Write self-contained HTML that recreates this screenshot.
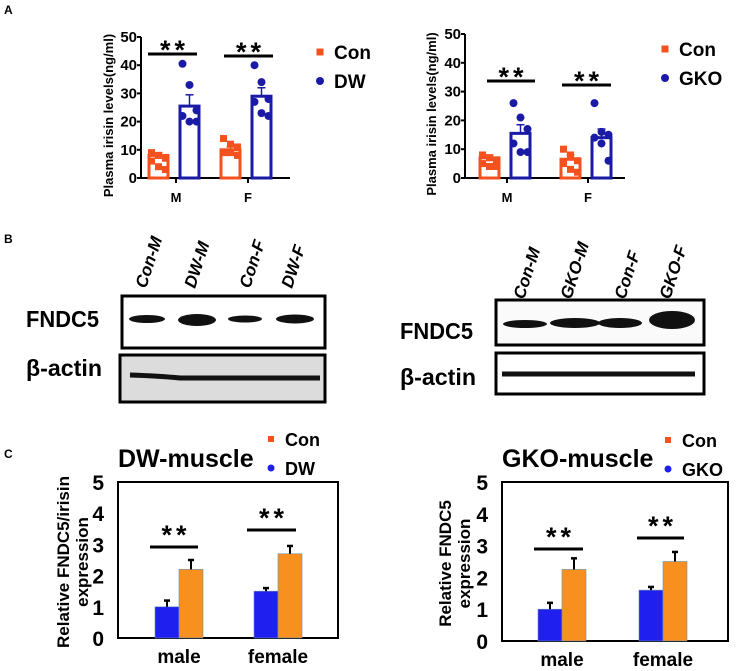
<!DOCTYPE html>
<html><head><meta charset="utf-8"><style>
body{margin:0;background:#fff;}
svg{display:block;font-family:"Liberation Sans",Arial,sans-serif;font-weight:bold;}
</style></head><body>
<svg id="fig" width="738" height="671" viewBox="0 0 738 671" xmlns="http://www.w3.org/2000/svg">
<text x="4" y="14" font-size="12">A</text>
<text x="4" y="243" font-size="12">B</text>
<text x="4" y="458" font-size="12">C</text>
<g id="blots">
  <g>
    <text transform="translate(146,289) rotate(-72)" font-size="17" font-style="italic">Con-M</text>
    <text transform="translate(195,289) rotate(-72)" font-size="17" font-style="italic">DW-M</text>
    <text transform="translate(250,289) rotate(-72)" font-size="17" font-style="italic">Con-F</text>
    <text transform="translate(292,289) rotate(-72)" font-size="17" font-style="italic">DW-F</text>
    <rect x="122" y="296" width="203" height="52" fill="#fff" stroke="#000" stroke-width="3"/>
    <ellipse cx="147" cy="319" rx="18" ry="4" fill="#111"/>
    <ellipse cx="197" cy="320" rx="19" ry="6" fill="#111"/>
    <ellipse cx="245" cy="319" rx="17" ry="3.5" fill="#111"/>
    <ellipse cx="295" cy="319" rx="19" ry="4.5" fill="#111"/>
    <rect x="120" y="355" width="205" height="47" fill="#dcdcdc" stroke="#000" stroke-width="3"/>
    <path d="M130 375 Q160 376 180 378 L320 378" stroke="#111" stroke-width="5" fill="none"/>
    <text x="26" y="327" font-size="23" textLength="73" lengthAdjust="spacingAndGlyphs">FNDC5</text>
    <text x="26" y="376" font-size="23" textLength="76" lengthAdjust="spacingAndGlyphs">β-actin</text>
  </g>
  <g>
    <text transform="translate(524,300) rotate(-72)" font-size="17" font-style="italic">Con-M</text>
    <text transform="translate(571,300) rotate(-72)" font-size="17" font-style="italic">GKO-M</text>
    <text transform="translate(625,300) rotate(-72)" font-size="17" font-style="italic">Con-F</text>
    <text transform="translate(670,300) rotate(-72)" font-size="17" font-style="italic">GKO-F</text>
    <rect x="496" y="300" width="208" height="45" fill="#fafafa" stroke="#000" stroke-width="3"/>
    <ellipse cx="525" cy="324" rx="22" ry="4" fill="#111"/>
    <ellipse cx="575" cy="323" rx="25" ry="5" fill="#111"/>
    <ellipse cx="620" cy="323" rx="22" ry="5" fill="#111"/>
    <ellipse cx="672" cy="320" rx="23" ry="9" fill="#111"/>
    <rect x="496" y="353" width="208" height="41" fill="#fff" stroke="#000" stroke-width="3"/>
    <line x1="502" y1="374" x2="695" y2="374" stroke="#111" stroke-width="5"/>
    <text x="400" y="339" font-size="23" textLength="73" lengthAdjust="spacingAndGlyphs">FNDC5</text>
    <text x="400" y="385" font-size="23" textLength="76" lengthAdjust="spacingAndGlyphs">β-actin</text>
  </g>
</g>
</svg>
<script>
// ---- Panel A data ----
const aGroups = ["M", "F"];
const aTicks = [0, 10, 20, 30, 40, 50];
const a1ConMeans = [8, 10];
const a1DwMeans = [25.5, 29];
const a1DwErr = [4, 3];
const a1ConErr = [1, 1];
const a1ConDotsM = [9, 8, 7, 6, 4, 3];
const a1DwDotsM = [40.5, 33, 24, 22, 20, 20];
const a1ConDotsF = [14, 12, 11, 9, 9, 8];
const a1DwDotsF = [40, 34, 28, 27, 23, 22];
const a2ConMeans = [7, 6.5];
const a2GkoMeans = [15.5, 14];
const a2GkoErr = [3, 3];
const a2ConErr = [1, 1.5];
const a2ConDotsM = [8, 7, 6, 5, 4, 4];
const a2GkoDotsM = [26, 21, 17, 12, 9, 9];
const a2ConDotsF = [10, 8, 6, 5, 3, 2];
const a2GkoDotsF = [26, 16, 15, 14, 12, 6];
// ---- Panel C data ----
const cGroups = ["male", "female"];
const cTicks = [0, 1, 2, 3, 4, 5];
const c1DwMeans = [1.0, 1.5];
const c1DwErr = [0.2, 0.1];
const c1ConMeans = [2.2, 2.7];
const c1ConErr = [0.3, 0.25];
const c2GkoMeans = [1.0, 1.6];
const c2GkoErr = [0.2, 0.1];
const c2ConMeans = [2.25, 2.5];
const c2ConErr = [0.35, 0.3];

const NS = "http://www.w3.org/2000/svg";
const svg = document.getElementById("fig");
function mk(tag, attrs, parent, text) {
  const e = document.createElementNS(NS, tag);
  for (const k in attrs) e.setAttribute(k, attrs[k]);
  if (text !== undefined) e.textContent = text;
  (parent || svg).appendChild(e);
  return e;
}

function panelA(o) {
  const g = mk("g", {});
  
  
  const y = v => o.y0 - (v / 50) * (o.y0 - o.y50);
  mk("line", {x1: o.ax, y1: y(50), x2: o.ax, y2: o.y0, stroke: "#000", "stroke-width": 2}, g);
  mk("line", {x1: o.ax, y1: o.y0, x2: o.axEnd, y2: o.y0, stroke: "#000", "stroke-width": 2}, g);
  aTicks.forEach(t => {
    mk("line", {x1: o.ax - 4, y1: y(t), x2: o.ax, y2: y(t), stroke: "#000", "stroke-width": 2}, g);
    const tl = mk("text", {x: o.ax - 4, y: y(t) + 5, "font-size": 15, "text-anchor": "end"}, g, t);
    
    
  });
  const yl = mk("text", {transform: `translate(${o.ylx},${(y(50)+o.y0)/2+8}) rotate(-90)`, "font-size": 13, "text-anchor": "middle"}, g, "Plasma irisin levels(ng/ml)");
  
  
  aGroups.forEach((grp, i) => {
    const cx = o.groupX[i];
    mk("line", {x1: cx, y1: o.y0, x2: cx, y2: o.y0 + 5, stroke: "#000", "stroke-width": 2}, g);
    const xl = mk("text", {x: cx, y: o.y0 + 24, "font-size": 13, "text-anchor": "middle"}, g, grp);
    
    
    const bw = 19;
    const series = [
      {m: o.conMeans[i], e: o.conErr[i], dots: o.conDots[i], c: "#f4511e", x: cx - 27, sq: true},
      {m: o.expMeans[i], e: o.expErr[i], dots: o.expDots[i], c: "#1a1aa6", x: cx + 4, sq: false}
    ];
    series.forEach((s, si) => {
      const b = mk("rect", {x: s.x, y: y(s.m), width: bw, height: o.y0 - y(s.m), fill: "#fff", stroke: s.c, "stroke-width": 3}, g);
      
      
      mk("line", {x1: s.x + bw/2, y1: y(s.m), x2: s.x + bw/2, y2: y(s.m + s.e), stroke: s.c, "stroke-width": 1.5}, g);
      mk("line", {x1: s.x + bw/2 - 4, y1: y(s.m + s.e), x2: s.x + bw/2 + 4, y2: y(s.m + s.e), stroke: s.c, "stroke-width": 1.5}, g);
      s.dots.forEach((v, k) => {
        const dx = s.x + bw/2 + ((k % 3) - 1) * 7;
        let d;
        if (s.sq) d = mk("rect", {x: dx - 3.5, y: y(v) - 3.5, width: 7, height: 7, fill: s.c}, g);
        else d = mk("circle", {cx: dx, cy: y(v), r: 4, fill: s.c}, g);
        
        
      });
    });
    const sl = o.sig[i];
    mk("line", {x1: sl[0], y1: sl[2], x2: sl[1], y2: sl[2], stroke: "#000", "stroke-width": 3}, g);
    const st = mk("text", {x: (sl[0]+sl[1])/2 + 2, y: sl[2] + 5, "font-size": 27, "text-anchor": "middle", "letter-spacing": "4"}, g, "**");
    
    
  });
  mk("rect", {x: o.leg[0] - 3.5, y: o.leg[1] - 3.5, width: 7, height: 7, fill: "#f4511e"}, g);
  const l1 = mk("text", {x: o.leg[0] + 14, y: o.leg[1] + 7, "font-size": 19}, g, "Con");
  
  
  mk("circle", {cx: o.leg[0], cy: o.leg[1] + 29, r: 4, fill: "#1a1aa6"}, g);
  const l2 = mk("text", {x: o.leg[0] + 14, y: o.leg[1] + 36, "font-size": 19}, g, o.expName);
  
  
}

panelA({name: "chart-a-dw", ax: 141, axEnd: 290, y0: 178, y50: 37, ylx: 113, groupX: [176, 248],
  conMeans: a1ConMeans, conErr: a1ConErr, expMeans: a1DwMeans, expErr: a1DwErr,
  conDots: [a1ConDotsM, a1ConDotsF], expDots: [a1DwDotsM, a1DwDotsF],
  sig: [[148, 197, 54], [224, 273, 56]], leg: [320, 52], expName: "DW"});
panelA({name: "chart-a-gko", ax: 465, axEnd: 625, y0: 178, y50: 34, ylx: 436, groupX: [507, 588],
  conMeans: a2ConMeans, conErr: a2ConErr, expMeans: a2GkoMeans, expErr: a2GkoErr,
  conDots: [a2ConDotsM, a2ConDotsF], expDots: [a2GkoDotsM, a2GkoDotsF],
  sig: [[487, 535, 81], [562, 611, 85]], leg: [665, 49], expName: "GKO"});

function panelC(o) {
  const g = mk("g", {});
  
  
  const y = v => o.y0 - (v / 5) * (o.y0 - o.y5);
  mk("rect", {x: o.x1, y: o.y5, width: o.x2 - o.x1, height: o.y0 - o.y5, fill: "none", stroke: "#000", "stroke-width": 2}, g);
  cTicks.forEach(t => {
    const tl = mk("text", {x: o.x1 - 14, y: y(t) + 8, "font-size": 21, "text-anchor": "end"}, g, t);
    
    
  });
  const cy = (o.y0 + o.y5) / 2 + 2;
  const yl = mk("text", {transform: `translate(${o.ylx},${cy}) rotate(-90)`, "font-size": 17, "text-anchor": "middle"}, g);
  
  
  mk("tspan", {x: 0, dy: 0}, yl, o.ylab[0]);
  mk("tspan", {x: 0, dy: 19}, yl, o.ylab[1]);
  const t = mk("text", {x: o.x1, y: o.y5 - 15, "font-size": 25}, g, o.title);
  
  
  cGroups.forEach((grp, i) => {
    const cx = o.groupX[i];
    const bw = 24;
    const xl = mk("text", {x: cx, y: o.y0 + 25, "font-size": 19, "text-anchor": "middle"}, g, grp);
    
    
    const series = [
      {m: o.expMeans[i], e: o.expErr[i], c: "#1f1ff0", x: cx - bw, n: 'bar-treated'},
      {m: o.conMeans[i], e: o.conErr[i], c: "#f7901e", x: cx, n: 'bar-con'}
    ];
    series.forEach(s => {
      const b = mk("rect", {x: s.x, y: y(s.m), width: bw, height: o.y0 - y(s.m), fill: s.c, stroke: "#6a8fb0", "stroke-width": 0.6}, g);
      
      
      mk("line", {x1: s.x + bw/2, y1: y(s.m), x2: s.x + bw/2, y2: y(s.m + s.e), stroke: "#000", "stroke-width": 2}, g);
      mk("line", {x1: s.x + bw/2 - 3, y1: y(s.m + s.e), x2: s.x + bw/2 + 3, y2: y(s.m + s.e), stroke: "#000", "stroke-width": 2.5}, g);
    });
    const sl = o.sig[i];
    mk("line", {x1: sl[0], y1: sl[2], x2: sl[1], y2: sl[2], stroke: "#000", "stroke-width": 3}, g);
    const st = mk("text", {x: (sl[0]+sl[1])/2 + 2, y: sl[2] - 3, "font-size": 27, "text-anchor": "middle", "letter-spacing": "4"}, g, "**");
    
    
  });
  mk("rect", {x: o.leg[0] - 3, y: o.leg[1] - 3, width: 6, height: 6, fill: "#f4511e"}, g);
  const l1 = mk("text", {x: o.leg[0] + 14, y: o.leg[1] + 7, "font-size": 18}, g, "Con");
  
  
  mk("circle", {cx: o.leg[0], cy: o.leg[1] + 29, r: 3.5, fill: "#1f1ff0"}, g);
  const l2 = mk("text", {x: o.leg[0] + 14, y: o.leg[1] + 36, "font-size": 18}, g, o.expName);
  
  
}

panelC({name: "chart-c-dw", x1: 118, x2: 338, y0: 638, y5: 482, ylx: 69, ylab: ["Relative FNDC5/irisin", "expression"],
  title: "DW-muscle", groupX: [179, 278], expMeans: c1DwMeans, expErr: c1DwErr, conMeans: c1ConMeans, conErr: c1ConErr,
  sig: [[150, 198, 547], [247, 296, 530]], leg: [271, 439], expName: "DW"});
panelC({name: "chart-c-gko", x1: 502, x2: 728, y0: 641, y5: 482, ylx: 451, ylab: ["Relative FNDC5", "expression"],
  title: "GKO-muscle", groupX: [562, 663], expMeans: c2GkoMeans, expErr: c2GkoErr, conMeans: c2ConMeans, conErr: c2ConErr,
  sig: [[534, 583, 549], [637, 684, 538]], leg: [668, 440], expName: "GKO"});
</script>
</body></html>
